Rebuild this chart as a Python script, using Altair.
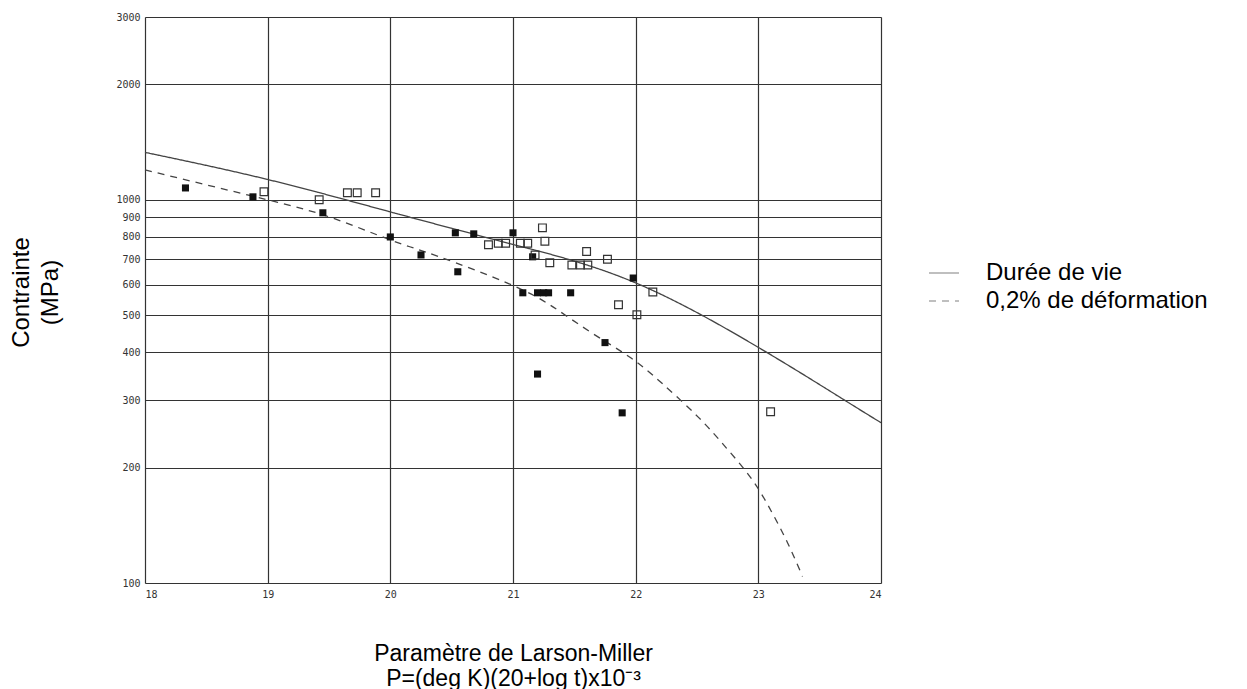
import altair as alt
import pandas as pd

# Curves
life_x = [18.0, 19.0, 20.0, 21.0, 22.0, 23.0, 23.66, 24.0]
life_y = [1330, 1130, 930, 765, 607, 412, 306, 262]
strain_x = [18.0, 18.5, 19.0, 19.5, 20.0, 20.4, 20.95, 21.3, 21.63, 21.95, 22.21, 22.51, 22.74, 22.95, 23.11, 23.24, 23.36]
strain_y = [1197, 1094, 1000, 903, 786, 710, 607, 532, 452, 389, 333, 271, 225, 186, 153, 127, 104]

# Data points
filled_x = [18.33, 18.88, 19.45, 20.0, 20.25, 20.53, 20.68, 20.55, 21.0, 21.16, 21.08, 21.2, 21.25, 21.29, 21.47, 21.98, 21.75, 21.2, 21.89]
filled_y = [1074, 1018, 925, 800, 718, 820, 815, 649, 820, 710, 572, 572, 572, 572, 572, 625, 424, 351, 278]
open_x = [18.97, 19.42, 19.65, 19.73, 19.88, 20.8, 20.88, 20.94, 21.06, 21.12, 21.24, 21.26, 21.18, 21.3, 21.48, 21.55, 21.61, 21.6, 21.77, 22.14, 21.86, 22.01, 23.1]
open_y = [1050, 1000, 1043, 1043, 1043, 763, 770, 770, 770, 770, 845, 780, 718, 685, 676, 676, 676, 733, 700, 575, 532, 501, 280]

series_names = ["Durée de vie", "0,2% de déformation"]
y_ticks = [100, 200, 300, 400, 500, 600, 700, 800, 900, 1000, 2000, 3000]
x_ticks = [18, 19, 20, 21, 22, 23, 24]

curves = pd.concat([
    pd.DataFrame({"P": life_x, "S": life_y, "serie": series_names[0]}),
    pd.DataFrame({"P": strain_x, "S": strain_y, "serie": series_names[1]}),
])
filled = pd.DataFrame({"P": filled_x, "S": filled_y})
opened = pd.DataFrame({"P": open_x, "S": open_y})

xs = alt.Scale(domain=[18, 24], nice=False, zero=False)
ys = alt.Scale(type="log", domain=[100, 3000], nice=False)

x_enc = alt.X("P:Q", scale=xs, axis=alt.Axis(
    values=x_ticks, title=["Paramètre de Larson-Miller", "P=(deg K)(20+log t)x10⁻³"],
    titleFont="Liberation Sans", titleFontSize=23, titleFontWeight="normal", titleColor="#000",
    titleY=77, titleBaseline="alphabetic", titleLineHeight=25,
    labelFont="DejaVu Sans Mono", labelFontSize=10, labelColor="#333", labelPadding=6,
    ticks=False, domain=False, grid=True, gridColor="#333", gridWidth=1.2, format="d"))
y_enc = alt.Y("S:Q", scale=ys, axis=alt.Axis(
    values=y_ticks, title=["Contrainte", "(MPa)"],
    titleFont="Liberation Sans", titleFontSize=24, titleFontWeight="normal", titleColor="#000",
    titleAngle=270, titleX=-136, titleY=275, titleAlign="center", titleBaseline="top",
    titleLineHeight=29,
    labelFont="DejaVu Sans Mono", labelFontSize=10, labelColor="#333", labelPadding=5,
    ticks=False, domain=False, grid=True, gridColor="#333", gridWidth=1.2, format="d"))

lines = alt.Chart(curves).mark_line(color="#444", strokeWidth=1.3, interpolate="natural").encode(
    x=x_enc, y=y_enc,
    strokeDash=alt.StrokeDash("serie:N", scale=alt.Scale(domain=series_names, range=[[1, 0], [7, 6]]),
                              legend=alt.Legend(title=None, orient="none", legendX=783, legendY=240,
                                                symbolType="stroke", symbolStrokeColor="#aaa",
                                                symbolStrokeWidth=1.5, symbolSize=900,
                                                labelFont="Liberation Sans", labelFontSize=24,
                                                labelColor="#000", labelLimit=400, labelOffset=26,
                                                rowPadding=-3)),
    detail="serie:N",
)

pts_filled = alt.Chart(filled).mark_square(size=50, color="#111", opacity=1).encode(x="P:Q", y="S:Q")
pts_open = alt.Chart(opened).mark_square(size=60, filled=False, color="#333", strokeWidth=1.2, opacity=1).encode(x="P:Q", y="S:Q")

chart = alt.layer(lines, pts_filled, pts_open).properties(
    width=736, height=566,
    autosize=alt.AutoSizeParams(type="none"),
    padding={"left": 145, "top": 17, "right": 366, "bottom": 106},
).configure_view(stroke="#222", strokeWidth=1.5).configure(background="white")

chart.save("out.html", embed_options={"renderer": "svg", "actions": False})
